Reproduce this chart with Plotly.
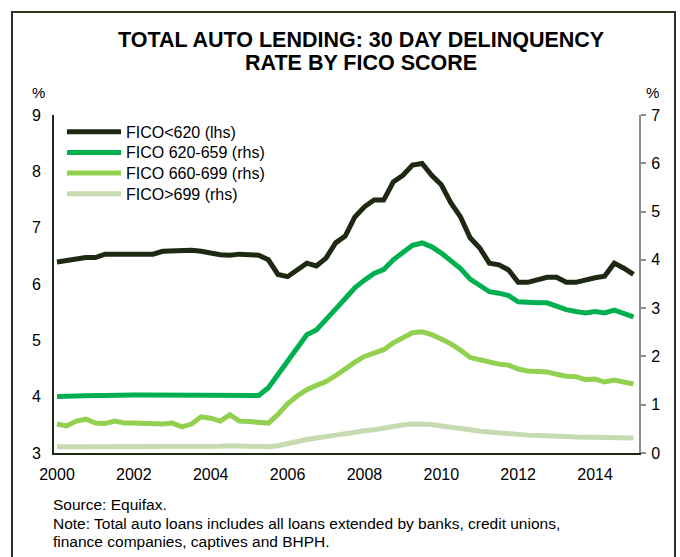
import plotly.graph_objects as go

# Quarterly observations, 2000Q1 .. 2015Q1
years = [2000 + i / 4 for i in range(61)]

fico_lt620 = [
    6.39, 6.42, 6.45, 6.47,
    6.47, 6.53, 6.53, 6.53,
    6.54, 6.55, 6.53, 6.58,
    6.59, 6.60, 6.60, 6.58,
    6.54, 6.52, 6.51, 6.53,
    6.52, 6.51, 6.43, 6.17,
    6.13, 6.25, 6.37, 6.32,
    6.46, 6.73, 6.85, 7.19,
    7.37, 7.49, 7.49, 7.81,
    7.93, 8.11, 8.14, 7.93,
    7.76, 7.44, 7.19, 6.82,
    6.64, 6.37, 6.34, 6.25,
    6.03, 6.03, 6.07, 6.12,
    6.12, 6.03, 6.03, 6.08,
    6.11, 6.14, 6.37, 6.28,
    6.17,
]

fico_620_659 = [
    1.17, 1.18, 1.18, 1.19,
    1.19, 1.19, 1.20, 1.20,
    1.20, 1.20, 1.20, 1.20,
    1.20, 1.20, 1.20, 1.19,
    1.19, 1.19, 1.19, 1.19,
    1.18, 1.19, 1.35, 1.62,
    1.90, 2.17, 2.45, 2.55,
    2.75, 2.98, 3.20, 3.42,
    3.58, 3.72, 3.80, 4.00,
    4.15, 4.30, 4.35, 4.27,
    4.14, 3.98, 3.82, 3.60,
    3.48, 3.34, 3.31, 3.26,
    3.13, 3.11, 3.11, 3.11,
    3.03, 2.97, 2.93, 2.90,
    2.93, 2.90, 2.96, 2.88,
    2.82,
]

fico_660_699 = [
    0.60, 0.56, 0.66, 0.70,
    0.62, 0.61, 0.66, 0.62,
    0.62, 0.61, 0.61, 0.60,
    0.62, 0.54, 0.60, 0.75,
    0.72, 0.66, 0.79, 0.66,
    0.65, 0.64, 0.62, 0.80,
    1.02, 1.18, 1.31, 1.40,
    1.48, 1.60, 1.75, 1.88,
    2.00, 2.08, 2.14, 2.28,
    2.40, 2.49, 2.51, 2.45,
    2.36, 2.26, 2.13, 1.98,
    1.93, 1.88, 1.84, 1.82,
    1.74, 1.70, 1.69, 1.68,
    1.63, 1.59, 1.58, 1.52,
    1.53, 1.47, 1.51, 1.47,
    1.43,
]

fico_gt699 = [
    0.13, 0.12, 0.13, 0.13,
    0.13, 0.14, 0.14, 0.14,
    0.14, 0.14, 0.13, 0.13,
    0.13, 0.13, 0.12, 0.13,
    0.14, 0.14, 0.15, 0.14,
    0.14, 0.13, 0.13, 0.15,
    0.20, 0.23, 0.28, 0.31,
    0.33, 0.37, 0.40, 0.44,
    0.46, 0.48, 0.52, 0.55,
    0.58, 0.60, 0.60, 0.59,
    0.56, 0.54, 0.52, 0.48,
    0.45, 0.43, 0.42, 0.41,
    0.38, 0.37, 0.36, 0.36,
    0.35, 0.34, 0.33, 0.33,
    0.33, 0.32, 0.32, 0.31,
    0.31,
]

series_names = ["FICO<620 (lhs)", "FICO 620-659 (rhs)", "FICO 660-699 (rhs)", "FICO>699 (rhs)"]
series_values = [fico_lt620, fico_620_659, fico_660_699, fico_gt699]
series_axes = ["y", "y2", "y2", "y2"]
series_colors = ["#1e2912", "#00b050", "#92d050", "#c7dbb3"]

x_ticks = [2000, 2002, 2004, 2006, 2008, 2010, 2012, 2014]
left_ticks = [3, 4, 5, 6, 7, 8, 9]
right_ticks = [0, 1, 2, 3, 4, 5, 6, 7]

title_lines = ["TOTAL AUTO LENDING: 30 DAY DELINQUENCY", "RATE BY FICO SCORE"]
note_lines = [
    "Source: Equifax.",
    "Note: Total auto loans includes all loans extended by banks, credit unions,",
    "finance companies, captives and BHPH.",
]

FONT = "Liberation Sans, Arial, sans-serif"
W, H = 680, 557
L, R, T, B = 54, 41, 115, 104
PW, PH = W - L - R, H - T - B


def px(x):
    return (x - L) / PW


def py(y):
    return (H - B - y) / PH


fig = go.Figure()
# draw light series first so the dark line sits on top
for i in [3, 2, 1, 0]:
    fig.add_trace(go.Scatter(
        x=years, y=series_values[i], name=series_names[i], yaxis=series_axes[i],
        mode="lines", line=dict(color=series_colors[i], width=5),
        showlegend=False,
    ))

annotations = []
shapes = []

# key in the upper-left corner of the plot: a line sample plus the series name
for i, name in enumerate(series_names):
    row_y = 131.7 + 20.7 * i
    shapes.append(dict(
        type="line", xref="paper", yref="paper",
        x0=px(67), x1=px(121), y0=py(row_y), y1=py(row_y),
        line=dict(color=series_colors[i], width=5),
    ))
    annotations.append(dict(
        text=name, xref="paper", yref="paper", x=px(124), y=py(row_y + 0.5),
        xanchor="left", yanchor="middle", showarrow=False,
        font=dict(family=FONT, size=16, color="#000000"),
    ))

for txt, yc in zip(title_lines, [40, 63]):
    annotations.append(dict(
        text="<b>%s</b>" % txt, xref="paper", yref="paper", x=px(361), y=py(yc),
        xanchor="center", yanchor="middle", showarrow=False,
        font=dict(family=FONT, size=21.5, color="#000000"),
    ))
for txt, yc in zip(note_lines, [504, 523, 541]):
    annotations.append(dict(
        text=txt, xref="paper", yref="paper", x=px(51), y=py(yc),
        xanchor="left", yanchor="middle", showarrow=False,
        font=dict(family=FONT, size=15.5, color="#000000"),
    ))
for xc in (38, 652):
    annotations.append(dict(
        text="%", xref="paper", yref="paper", x=px(xc), y=py(92),
        xanchor="center", yanchor="middle", showarrow=False,
        font=dict(family=FONT, size=15, color="#000000"),
    ))

# outer frame around the whole figure
shapes.append(dict(
    type="rect", xref="paper", yref="paper",
    x0=px(12), x1=px(675), y0=py(565), y1=py(12),
    line=dict(color="#2b3620", width=2), fillcolor="rgba(0,0,0,0)", layer="below",
))

fig.update_layout(
    width=W, height=H,
    margin=dict(l=L, r=R, t=T, b=B),
    paper_bgcolor="white", plot_bgcolor="white",
    font=dict(family=FONT, size=16, color="#000000"),
    showlegend=False,
    xaxis=dict(
        range=[1999.922, 2015.144], tickvals=x_ticks, ticktext=[str(v) for v in x_ticks],
        showgrid=False, zeroline=False, showline=True, linecolor="#1e2912", linewidth=2,
        ticks="", ticklabelstandoff=6,
    ),
    yaxis=dict(
        range=[3, 9], tickvals=left_ticks, showgrid=False, zeroline=False,
        showline=True, linecolor="#1e2912", linewidth=2, ticks="", ticklabelstandoff=8,
    ),
    yaxis2=dict(
        range=[0, 7], tickvals=right_ticks, overlaying="y", side="right",
        showgrid=False, zeroline=False, showline=True, linecolor="#8c8c8c", linewidth=2,
        ticks="outside", ticklen=5, tickcolor="#8c8c8c", tickwidth=2, ticklabelstandoff=2,
    ),
    annotations=annotations,
    shapes=shapes,
)

fig.write_html("out.html")
